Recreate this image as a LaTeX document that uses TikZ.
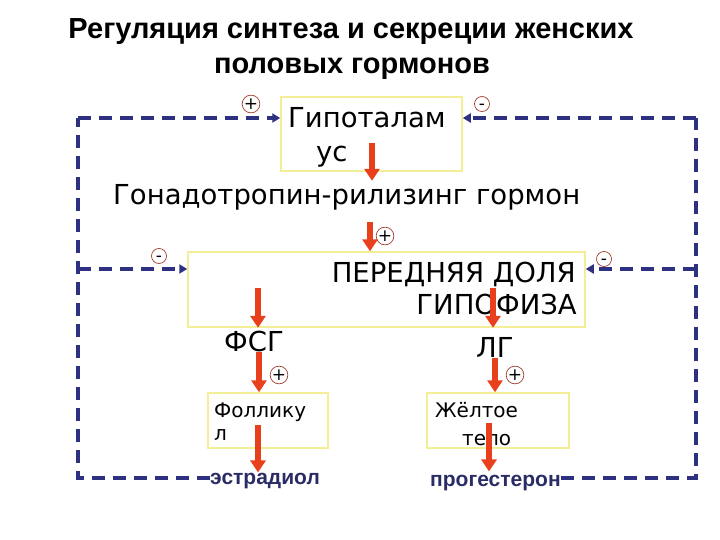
\documentclass[tikz,border=0pt]{standalone}
\usepackage{fontspec}
\setmainfont{DejaVu Sans}
\newfontfamily\titlefont{Liberation Sans}
\usetikzlibrary{arrows.meta,calc,positioning}
\definecolor{ink}{HTML}{000000}
\definecolor{navy}{HTML}{2E3082}
\definecolor{hormred}{HTML}{E8401C}
\definecolor{boxline}{HTML}{F4EE96}
\definecolor{signline}{HTML}{A04030}
\definecolor{hormink}{HTML}{2A2C66}
\tikzset{
  yellowbox/.style={draw=boxline,fill=white,line width=1.5pt,inner sep=0pt},
  bodytext/.style={inner sep=0pt,anchor=base west,font=\fontsize{27.5}{30}\selectfont,text=ink},
  smalltext/.style={inner sep=0pt,anchor=base west,font=\fontsize{20}{23}\selectfont,text=ink},
  hormtext/.style={inner sep=0pt,anchor=base west,font=\titlefont\bfseries\fontsize{21}{24}\selectfont,text=hormink},
  titletext/.style={inner sep=0pt,anchor=base,font=\titlefont\bfseries\fontsize{29}{34}\selectfont},
  redarrow/.style={-{Triangle[length=12pt,width=15pt]},line width=5.5pt,draw=hormred},
  feedback/.style={line width=3.2pt,draw=navy,dash pattern=on 13pt off 8pt},
  feedtip/.style={feedback,-{Triangle[length=8pt,width=9pt]}},
  sign/.style={circle,draw=signline,line width=0.7pt,minimum size=15pt,inner sep=0pt,
    text height=10.5pt,text depth=0pt,font=\fontsize{17}{17}\selectfont}
}
\begin{document}
\begin{tikzpicture}[x=1pt,y=-1pt]
  \useasboundingbox (0,0) rectangle (720,540);
  % title
  \node[titletext] (title1) at (351,39) {Регуляция синтеза и секреции женских};
  \node[titletext] (title2) at (352,74) {половых гормонов};
  % boxes
  \node[yellowbox,minimum width=181,minimum height=74] (hyp) at (371.5,134) {};
  \node[yellowbox,minimum width=397,minimum height=75] (pit) at (386.5,289.5) {};
  \node[yellowbox,minimum width=120,minimum height=55] (foll) at (268,420.5) {};
  \node[yellowbox,minimum width=142,minimum height=55] (lut) at (498,420.5) {};
  % texts
  \node[bodytext] (hyp1) at (288,128) {Гипоталам};
  \node[bodytext] (hyp2) at (316,162) {ус};
  \node[bodytext] (gnrh) at (113,205) {Гонадотропин-рилизинг гормон};
  \node[bodytext,anchor=base east] (pit1) at (576,282) {ПЕРЕДНЯЯ ДОЛЯ};
  \node[bodytext,anchor=base east] (pit2) at (577,314) {ГИПОФИЗА};
  \node[bodytext] (fsh) at (224,351) {ФСГ};
  \node[bodytext] (lh) at (476,357) {ЛГ};
  \node[smalltext] (foll1) at (214,417) {Фоллику};
  \node[smalltext] (foll2) at (214,440) {л};
  \node[smalltext] (lut1) at (435,417) {Жёлтое};
  \node[smalltext] (lut2) at (462,445) {тело};
  \node[hormtext] (estr) at (210,484) {эстрадиол};
  \node[hormtext] (prog) at (430,486) {прогестерон};
  % stimulation arrows
  \coordinate (h0) at (372,143);
  \coordinate (g0) at (370,222);
  \coordinate (p1) at (258,288);
  \coordinate (p2) at (493,288);
  \coordinate (f0) at (259,352);
  \coordinate (l0) at (495,358);
  \coordinate (fo) at (258,425);
  \coordinate (lo) at (489,423);
  \draw[redarrow] (h0) -- ([yshift=4pt]h0 |- gnrh.north);
  \draw[redarrow] (g0) -- (g0 |- pit.north);
  \draw[redarrow] (p1) -- (p1 |- pit.south);
  \draw[redarrow] (p2) -- (p2 |- pit.south);
  \draw[redarrow] (f0) -- (f0 |- foll.north);
  \draw[redarrow] (l0) -- (l0 |- lut.north);
  \draw[redarrow] (fo) -- (fo |- estr.north);
  \draw[redarrow] (lo) -- ([yshift=3pt]lo |- prog.north);
  % feedback loops
  \coordinate (lb) at (78,478);
  \coordinate (lt) at (78,118);
  \coordinate (lm) at (78,269);
  \coordinate (rb) at (696,478);
  \coordinate (rt) at (696,118);
  \coordinate (rm) at (696,269);
  \draw[feedback] (estr.west |- lb) -- (lb) -- (lt);
  \draw[feedtip] (lt) -- (lt -| hyp.west);
  \draw[feedtip] (lm) -- (lm -| pit.west);
  \draw[feedback] (prog.east |- rb) -- (rb) -- (rt);
  \draw[feedtip] (rt) -- (rt -| hyp.east);
  \draw[feedtip] (rm) -- (rm -| pit.east);
  % signs
  \node[sign] (s1) at (251,104) {+};
  \node[sign] (s2) at (482,104) {-};
  \node[sign] (s3) at (159,256) {-};
  \node[sign] (s4) at (604,259) {-};
  \node[sign] (s5) at (385,236) {+};
  \node[sign] (s6) at (279,375) {+};
  \node[sign] (s7) at (515,375) {+};
\end{tikzpicture}
\end{document}
